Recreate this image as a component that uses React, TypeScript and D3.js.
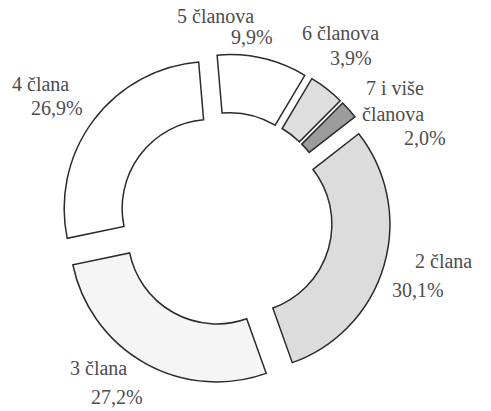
import React from "react";
import * as d3 from "d3";

const categories = ["2 člana", "3 člana", "4 člana", "5 članova", "6 članova", "7 i više članova"];
const values = [30.1, 27.2, 26.9, 9.9, 3.9, 2.0];
const valueLabels = ["30,1%", "27,2%", "26,9%", "9,9%", "3,9%", "2,0%"];
const fills = ["#dcdcdc", "#f5f5f5", "#ffffff", "#ffffff", "#dedede", "#9c9c9c"];

// label layout: lines of text (category split + value) with left x and baselines
const labelLayout = [
  { lines: ["2 člana", "30,1%"], xs: [415, 392], ys: [268, 297] },
  { lines: ["3 člana", "27,2%"], xs: [70, 91], ys: [375, 404] },
  { lines: ["4 člana", "26,9%"], xs: [12, 31], ys: [91, 115] },
  { lines: ["5 članova", "9,9%"], xs: [177, 231], ys: [23, 44] },
  { lines: ["6 članova", "3,9%"], xs: [302, 330], ys: [40, 65] },
  { lines: ["7 i više", "članova", "2,0%"], xs: [366, 362, 404], ys: [95, 121, 145] },
];

const W = 491;
const H = 411;
const cx = 225.6;
const cy = 219.2;
const outerR = 147;
const innerR = 89;
const explode = 18;
const startDeg = 52;

export default function App() {
  const data = categories.map((c, i) => ({ c, v: values[i], i }));
  const start = (startDeg * Math.PI) / 180;
  const pie = d3
    .pie<any>()
    .sort(null)
    .value((d) => d.v)
    .startAngle(start)
    .endAngle(start + 2 * Math.PI);
  const arcs = pie(data);
  const arc = d3.arc<any>().innerRadius(innerR).outerRadius(outerR);

  return (
    <svg
      width={W}
      height={H}
      style={{ position: "absolute", left: 0, top: 0, background: "#fff" }}
    >
      <g transform={`translate(${cx},${cy})`}>
        {arcs.map((a, i) => {
          const mid = (a.startAngle + a.endAngle) / 2;
          const dx = explode * Math.sin(mid);
          const dy = -explode * Math.cos(mid);
          return (
            <path
              key={i}
              d={arc(a) as string}
              transform={`translate(${dx},${dy})`}
              fill={fills[i]}
              stroke="#2b2b2b"
              strokeWidth={1.5}
              strokeLinejoin="miter"
            />
          );
        })}
      </g>
      {labelLayout.map((l, i) => (
        <g
          key={i}
          fill="#4d4d4d"
          style={{ fontFamily: '"Liberation Serif", "DejaVu Serif", serif', fontSize: "20px" }}
        >
          {l.lines.map((t, j) => (
            <text key={j} x={l.xs[j]} y={l.ys[j]}>
              {t}
            </text>
          ))}
        </g>
      ))}
    </svg>
  );
}
